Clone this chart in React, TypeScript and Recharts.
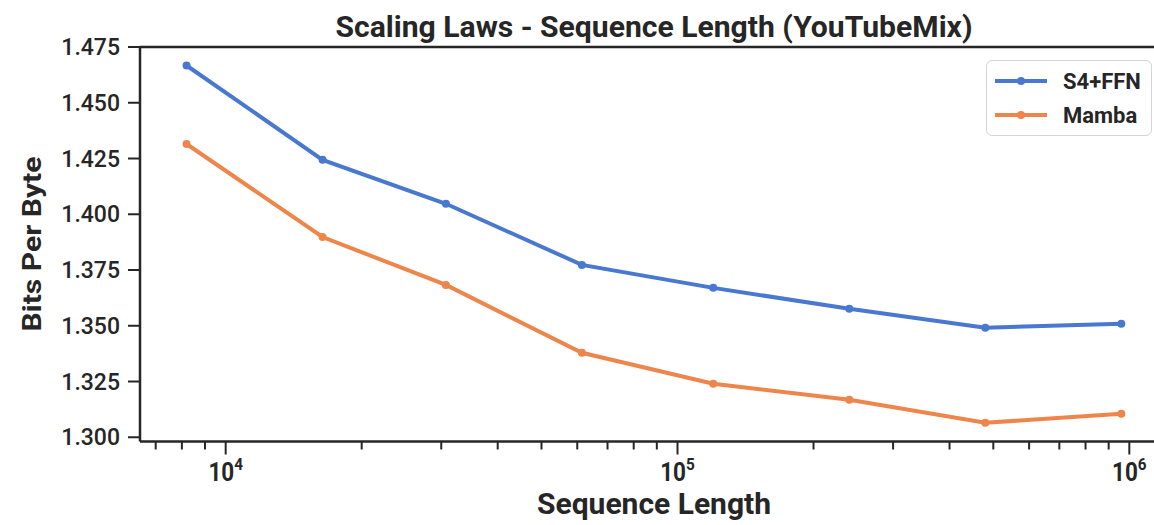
import { LineChart, Line, XAxis, YAxis, ReferenceLine } from 'recharts'

// sequence lengths and bits-per-byte
const seqLen = [8192, 16384, 30720, 61440, 120000, 240000, 480000, 960000]
const s4ffn = [1.4667, 1.4244, 1.4047, 1.3773, 1.367, 1.3576, 1.3491, 1.3509]
const mamba = [1.4315, 1.3898, 1.3683, 1.3379, 1.324, 1.3168, 1.3065, 1.3105]

const yTicks = [1.3, 1.325, 1.35, 1.375, 1.4, 1.425, 1.45, 1.475]
const majorTicks = [1e4, 1e5, 1e6]
const minorTicks = [7000, 8000, 9000, 20000, 30000, 40000, 50000, 60000, 70000, 80000, 90000,
	200000, 300000, 400000, 500000, 600000, 700000, 800000, 900000]

const BLUE = '#4878D0'
const ORANGE = '#EE854A'
const INK = '#262626'
const FONT = 'Roboto, sans-serif'

const data = seqLen.map((len, i) => ({ len, s4: s4ffn[i], mamba: mamba[i] }))

function XTick({ x, y, payload }: any) {
	const v = payload.value
	const major = majorTicks.includes(v)
	const exp = Math.round(Math.log10(v))
	return (
		<g>
			<line x1={x} x2={x} y1={y} y2={y + (major ? 13 : 8)} stroke={INK} strokeWidth={2} />
			{major && (
				<text transform={`translate(${x},${y + 39}) scale(0.9,1)`} textAnchor="middle"
					fontFamily={FONT} fontWeight={700} fontSize={25} fill={INK}>
					10<tspan fontSize={17} dy={-11}>{exp}</tspan>
				</text>
			)}
		</g>
	)
}

function LegendBox() {
	const rows = [
		{ name: 'S4+FFN', color: BLUE },
		{ name: 'Mamba', color: ORANGE },
	]
	return (
		<div style={{
			position: 'absolute', left: 986, top: 60,
			width: 166, height: 76, boxSizing: 'border-box', border: '1.5px solid #d4d4d4',
			borderRadius: 6, background: '#fff', paddingTop: 3,
		}}>
			{rows.map((r) => (
				<div key={r.name} style={{ display: 'flex', alignItems: 'center', height: 34 }}>
					<svg width={70} height={12} style={{ marginLeft: 6 }}>
						<line x1={2} x2={54} y1={6} y2={6} stroke={r.color} strokeWidth={4} />
						<circle cx={28} cy={6} r={4} fill={r.color} />
					</svg>
					<span style={{ fontFamily: FONT, fontWeight: 700, fontSize: 22, color: INK }}>{r.name}</span>
				</div>
			))}
		</div>
	)
}

export default function App() {
	return (
		<div style={{ position: 'absolute', left: 0, top: 0, width: 1154, height: 525, background: '#fff' }}>
			<LineChart width={1154} height={525} data={data}
				margin={{ top: 47, right: 0, bottom: 0, left: 80 }}>
				<XAxis dataKey="len" type="number" scale="log" domain={[6462, 1134000]} allowDataOverflow
					ticks={[...minorTicks, ...majorTicks]} interval={0} tick={<XTick />}
					tickLine={false} tickSize={0} tickMargin={0} height={83.5}
					axisLine={{ stroke: INK, strokeWidth: 2.5 }} />
				<YAxis type="number" domain={[1.2981, 1.475]} allowDataOverflow ticks={yTicks} interval={0}
					width={60} tickSize={12} tickMargin={8}
					tickFormatter={(v: number) => v.toFixed(3)}
					tick={{ fontFamily: FONT, fontWeight: 500, fontSize: 23, fill: INK }}
					tickLine={{ stroke: INK, strokeWidth: 2 }}
					axisLine={{ stroke: INK, strokeWidth: 2.5 }} />
				<ReferenceLine y={1.475} stroke={INK} strokeWidth={2.5} ifOverflow="visible" />
				<Line dataKey="s4" name="S4+FFN" stroke={BLUE} strokeWidth={4}
					dot={{ r: 4, fill: BLUE, stroke: BLUE, strokeWidth: 0 }} activeDot={false} isAnimationActive={false} />
				<Line dataKey="mamba" name="Mamba" stroke={ORANGE} strokeWidth={4}
					dot={{ r: 4, fill: ORANGE, stroke: ORANGE, strokeWidth: 0 }} activeDot={false} isAnimationActive={false} />
			</LineChart>
			<LegendBox />
			<svg width={1154} height={525} style={{ position: 'absolute', left: 0, top: 0, pointerEvents: 'none' }}>
				<text x={654} y={37} textAnchor="middle" fontFamily={FONT} fontWeight={700} fontSize={30}
					fill={INK} textLength={637} lengthAdjust="spacingAndGlyphs">
					Scaling Laws - Sequence Length (YouTubeMix)
				</text>
				<text x={654} y={514} textAnchor="middle" fontFamily={FONT} fontWeight={700} fontSize={30}
					fill={INK} textLength={234} lengthAdjust="spacingAndGlyphs">
					Sequence Length
				</text>
				<text transform="translate(41,244) rotate(-90)" textAnchor="middle" fontFamily={FONT}
					fontWeight={700} fontSize={26} fill={INK} textLength={175} lengthAdjust="spacingAndGlyphs">
					Bits Per Byte
				</text>
			</svg>
		</div>
	)
}
